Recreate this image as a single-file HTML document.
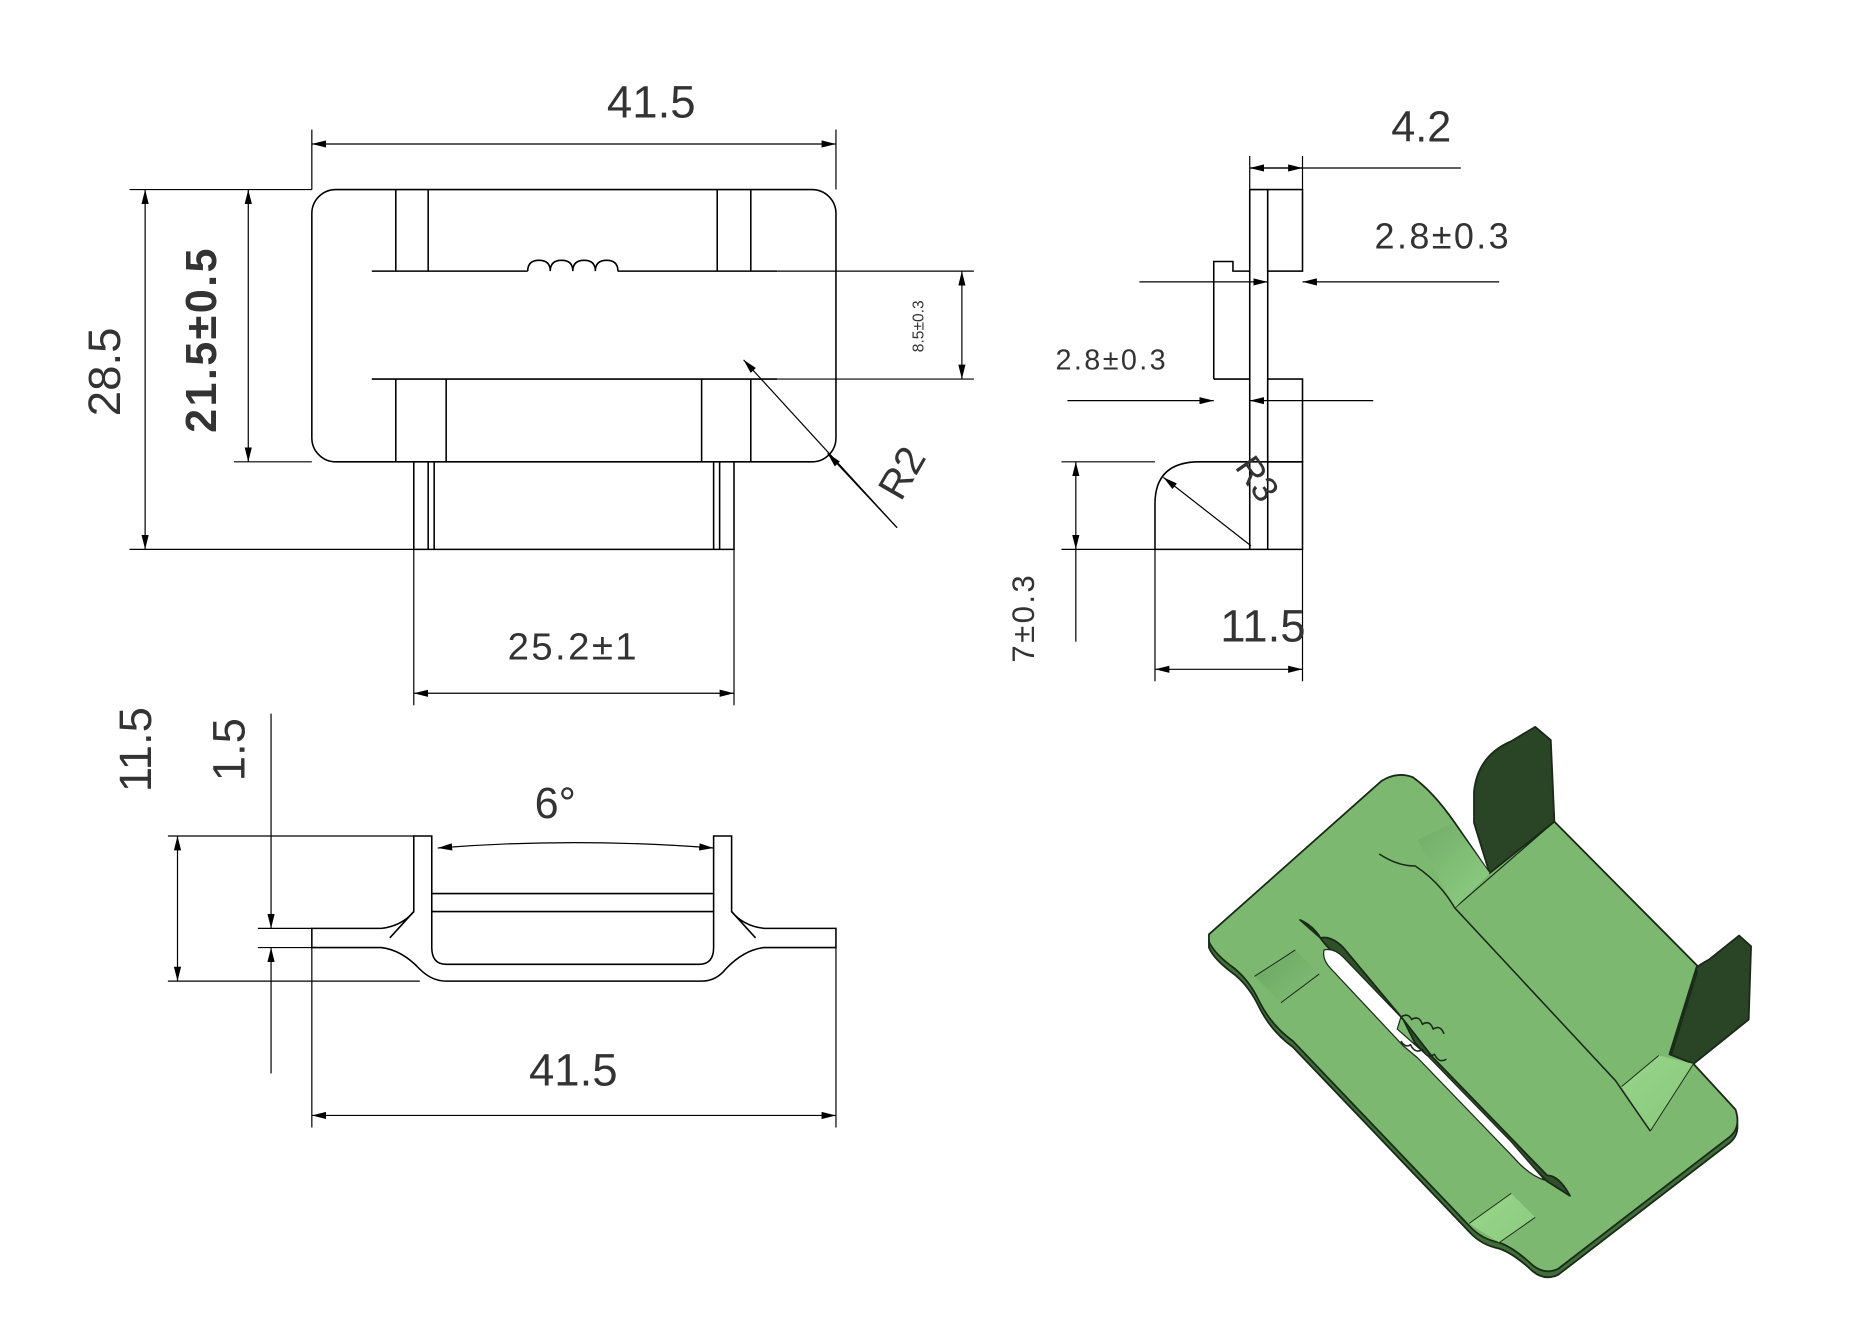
<!DOCTYPE html>
<html><head><meta charset="utf-8"><style>
html,body{margin:0;padding:0;background:#fff;}
svg{display:block;}
text{font-family:"Liberation Sans",sans-serif;fill:#333;}
</style></head><body>
<svg width="1871" height="1323" viewBox="0 0 1560 1103" xmlns="http://www.w3.org/2000/svg">
<defs>
<marker id="a" viewBox="0 0 12 6" refX="12" refY="3" markerWidth="12" markerHeight="6" orient="auto-start-reverse" markerUnits="userSpaceOnUse"><path d="M0,0 L12,3 L0,6 z" fill="#000"/></marker>
<linearGradient id="g1" x1="0" y1="0" x2="1" y2="1"><stop offset="0" stop-color="#4f8a48"/><stop offset="0.5" stop-color="#a8e69a"/><stop offset="1" stop-color="#7dbb70"/></linearGradient>
</defs>
<g fill="none" stroke="#000" stroke-width="1.3">
<rect x="260" y="158" width="437" height="227" rx="20"/>
<line x1="330" y1="158" x2="330" y2="226"/><line x1="357" y1="158" x2="357" y2="226"/>
<line x1="598" y1="158" x2="598" y2="226"/><line x1="626" y1="158" x2="626" y2="226"/>
<path d="M310,226 H440 M515,226 H648"/>
<path d="M440,226 q0,-9 9.4,-9 q9.4,0 9.4,9 q0,-9 9.4,-9 q9.4,0 9.4,9 q0,-9 9.4,-9 q9.4,0 9.4,9 q0,-9 9.4,-9 q9.4,0 9.4,9"/>
<line x1="310" y1="316" x2="648" y2="316"/>
<path d="M330,316 V385 M372,316 V385 M585,316 V385 M626,316 V385"/>
<path d="M345,385 V458 H612 V385 M357,385 V458 M362,385 V458 M595,385 V458 M600,385 V458"/>
<line x1="260" y1="108" x2="260" y2="158" stroke-width="1"/><line x1="697" y1="108" x2="697" y2="158" stroke-width="1"/>
<line x1="260" y1="120" x2="697" y2="120" stroke-width="1" marker-start="url(#a)" marker-end="url(#a)"/>
<line x1="108" y1="158" x2="260" y2="158" stroke-width="1"/><line x1="108" y1="458" x2="345" y2="458" stroke-width="1"/>
<line x1="121" y1="158" x2="121" y2="458" stroke-width="1" marker-start="url(#a)" marker-end="url(#a)"/>
<line x1="195" y1="385" x2="260" y2="385" stroke-width="1"/>
<line x1="207" y1="158" x2="207" y2="385" stroke-width="1" marker-start="url(#a)" marker-end="url(#a)"/>
<line x1="648" y1="226" x2="812" y2="226" stroke-width="1"/><line x1="648" y1="316" x2="812" y2="316" stroke-width="1"/>
<line x1="802" y1="226" x2="802" y2="316" stroke-width="1" marker-start="url(#a)" marker-end="url(#a)"/>
<line x1="748" y1="440" x2="620" y2="300" stroke-width="1" marker-end="url(#a)"/>
<line x1="690" y1="378" x2="748" y2="440" stroke-width="1" marker-start="url(#a)"/>
<line x1="345" y1="458" x2="345" y2="588" stroke-width="1"/><line x1="612" y1="458" x2="612" y2="588" stroke-width="1"/>
<line x1="345" y1="578" x2="612" y2="578" stroke-width="1" marker-start="url(#a)" marker-end="url(#a)"/>
<rect x="1057" y="158" width="29" height="68"/>
<path d="M1042,158 H1057 M1042,158 V458 M1057,158 V458"/>
<path d="M1012,316 V218 H1028 V226 H1042"/>
<rect x="1057" y="316" width="29" height="69"/>
<path d="M1042,316 H1012"/>
<path d="M963,458 H1086 V385 H1000 Q963,385 963,420 Z"/>
<line x1="1042" y1="140" x2="1218" y2="140" stroke-width="1"/>
<line x1="1042" y1="130" x2="1042" y2="158" stroke-width="1"/><line x1="1086" y1="130" x2="1086" y2="158" stroke-width="1"/>
<line x1="1042" y1="140" x2="1086" y2="140" stroke-width="1" marker-start="url(#a)" marker-end="url(#a)"/>
<line x1="950" y1="235" x2="1057" y2="235" stroke-width="1" marker-end="url(#a)"/>
<line x1="1250" y1="235" x2="1086" y2="235" stroke-width="1" marker-end="url(#a)"/>
<line x1="890" y1="334" x2="1012" y2="334" stroke-width="1" marker-end="url(#a)"/>
<line x1="1145" y1="334" x2="1042" y2="334" stroke-width="1" marker-end="url(#a)"/>
<line x1="885" y1="385" x2="963" y2="385" stroke-width="1"/><line x1="885" y1="458" x2="963" y2="458" stroke-width="1"/>
<line x1="897" y1="385" x2="897" y2="458" stroke-width="1" marker-start="url(#a)" marker-end="url(#a)"/>
<line x1="897" y1="458" x2="897" y2="535" stroke-width="1"/>
<line x1="963" y1="458" x2="963" y2="568" stroke-width="1"/><line x1="1086" y1="458" x2="1086" y2="568" stroke-width="1"/>
<line x1="963" y1="558" x2="1086" y2="558" stroke-width="1" marker-start="url(#a)" marker-end="url(#a)"/>
<line x1="1043" y1="455" x2="970" y2="398" stroke-width="1" marker-end="url(#a)"/>
<path d="M260,774 H318 Q335,772 345,760 V697 H360 V790 Q360,804 372,804 H583 Q595,804 595,790 V697 H610 V760 Q620,772 637,774 H697 V790 H637 Q620,792 605,808 Q597,818 585,818 H372 Q360,818 350,808 Q335,792 318,790 H260 Z"/>
<path d="M360,745 H595 M360,760 H595 M345,760 L325,782 M610,760 L630,782"/>
<path d="M365,707 Q478,698 595,707" stroke-width="1" marker-start="url(#a)" marker-end="url(#a)"/>
<line x1="140" y1="697" x2="345" y2="697" stroke-width="1"/><line x1="140" y1="818" x2="350" y2="818" stroke-width="1"/>
<line x1="148" y1="697" x2="148" y2="818" stroke-width="1" marker-start="url(#a)" marker-end="url(#a)"/>
<line x1="215" y1="774" x2="260" y2="774" stroke-width="1"/><line x1="215" y1="790" x2="260" y2="790" stroke-width="1"/>
<line x1="226" y1="595" x2="226" y2="774" stroke-width="1" marker-end="url(#a)"/>
<line x1="226" y1="895" x2="226" y2="790" stroke-width="1" marker-end="url(#a)"/>
<line x1="260" y1="790" x2="260" y2="940" stroke-width="1"/><line x1="697" y1="790" x2="697" y2="940" stroke-width="1"/>
<line x1="260" y1="930" x2="697" y2="930" stroke-width="1" marker-start="url(#a)" marker-end="url(#a)"/>
</g>
<g>
<text x="543" y="98" text-anchor="middle" font-size="38">41.5</text>
<text transform="translate(100,310) rotate(-90)" text-anchor="middle" font-size="38">28.5</text>
<text transform="translate(180,283) rotate(-90)" text-anchor="middle" font-size="36" font-weight="bold" letter-spacing="2">21.5±0.5</text>
<text transform="translate(770,272) rotate(-90)" text-anchor="middle" font-size="13">8.5±0.3</text>
<text transform="translate(762,400) rotate(-60)" text-anchor="middle" font-size="34">R2</text>
<text x="478" y="550" text-anchor="middle" font-size="32" letter-spacing="2">25.2±1</text>
<text x="1185" y="118" text-anchor="middle" font-size="36">4.2</text>
<text x="1203" y="207" text-anchor="middle" font-size="30" letter-spacing="2">2.8±0.3</text>
<text x="927" y="308" text-anchor="middle" font-size="24" letter-spacing="2">2.8±0.3</text>
<text transform="translate(862,515) rotate(-90)" text-anchor="middle" font-size="26" letter-spacing="2">7±0.3</text>
<text x="1053" y="535" text-anchor="middle" font-size="38">11.5</text>
<text transform="translate(1040,405) rotate(55)" text-anchor="middle" font-size="30">R3</text>
<text transform="translate(126,625) rotate(-90)" text-anchor="middle" font-size="38">11.5</text>
<text transform="translate(204,625) rotate(-90)" text-anchor="middle" font-size="38">1.5</text>
<text x="463" y="682" text-anchor="middle" font-size="36">6°</text>
<text x="478" y="905" text-anchor="middle" font-size="38">41.5</text>
</g>
<g stroke="#1a2a18" stroke-width="1.5" stroke-linejoin="round">
<path d="M1229,686 L1229,660 Q1232,630 1260,618 L1280,606 L1293,617 L1296,685 L1242,728 Z" fill="#2a4526"/>
<path d="M1392,879 L1392,845 Q1396,815 1425,800 L1450,780 L1460,789 L1458,850 L1412,887 Z" fill="#2a4526"/>
<path transform="translate(0,5)" d="M1008,779 L1152,651 Q1165,643 1178,648 Q1195,660 1213,686 L1242,728 L1296,685 L1415,805 L1392,879 L1412,887 L1447,925 Q1452,940 1442,948 L1299,1058 Q1288,1063 1278,1055 Q1262,1040 1250,1036 Q1235,1033 1225,1022 L1078,868 Q1060,855 1050,835 Q1042,818 1030,808 Q1012,795 1008,785 Z" fill="#3f6e38"/>
<path d="M1008,779 L1152,651 Q1165,643 1178,648 Q1195,660 1213,686 L1242,728 L1296,685 L1415,805 L1392,879 L1412,887 L1447,925 Q1452,940 1442,948 L1299,1058 Q1288,1063 1278,1055 Q1262,1040 1250,1036 Q1235,1033 1225,1022 L1078,868 Q1060,855 1050,835 Q1042,818 1030,808 Q1012,795 1008,785 Z" fill="#7cb870"/>
<path d="M1213,757 L1296,685" fill="none" stroke-width="1"/>
<path d="M1046,814 L1080,792 L1100,812 L1068,836 Z M1225,1020 L1260,995 L1280,1015 L1250,1036 Z M1182,700 L1212,686 L1242,728 L1213,757 Z M1352,906 L1383,880 L1412,887 L1376,943 Z" fill="url(#g1)" stroke="none"/>
<path d="M1150,712 Q1165,722 1180,722 Q1200,735 1213,757 L1347,901 Q1360,920 1376,943" fill="none" stroke-width="1.3"/>
<path d="M1084,767 Q1095,772 1101,782 Q1110,780 1120,790 L1170,850 L1180,870 L1260,955 Q1280,975 1290,985 L1309,997 Q1300,980 1290,980 L1195,882 L1170,850 Q1105,790 1101,782 Z" fill="#2f5029"/>
<path d="M1104,792 Q1112,790 1120,798 L1168,848 L1165,858 L1190,880 L1260,952 Q1280,975 1288,984 Q1275,980 1262,965 L1182,882 L1170,872 L1110,808 Q1102,800 1104,792 Z" fill="#fff" stroke-width="1"/>
<path d="M1168,848 q6,-4 9,2 q6,-4 9,4 q6,-4 9,4 q6,-4 9,4" fill="none" stroke-width="1.3"/>
<path d="M1168,868 q4,6 8,3 q4,8 10,4 q4,8 10,4 q4,8 10,4" fill="none" stroke-width="1.3"/>
<path d="M1046,814 L1080,792 M1068,836 L1100,812 M1225,1020 L1260,995 M1250,1036 L1280,1015 M1352,906 L1383,880 M1376,943 L1412,887" fill="none" stroke-width="0.8"/>
</g>
</svg>
</body></html>
